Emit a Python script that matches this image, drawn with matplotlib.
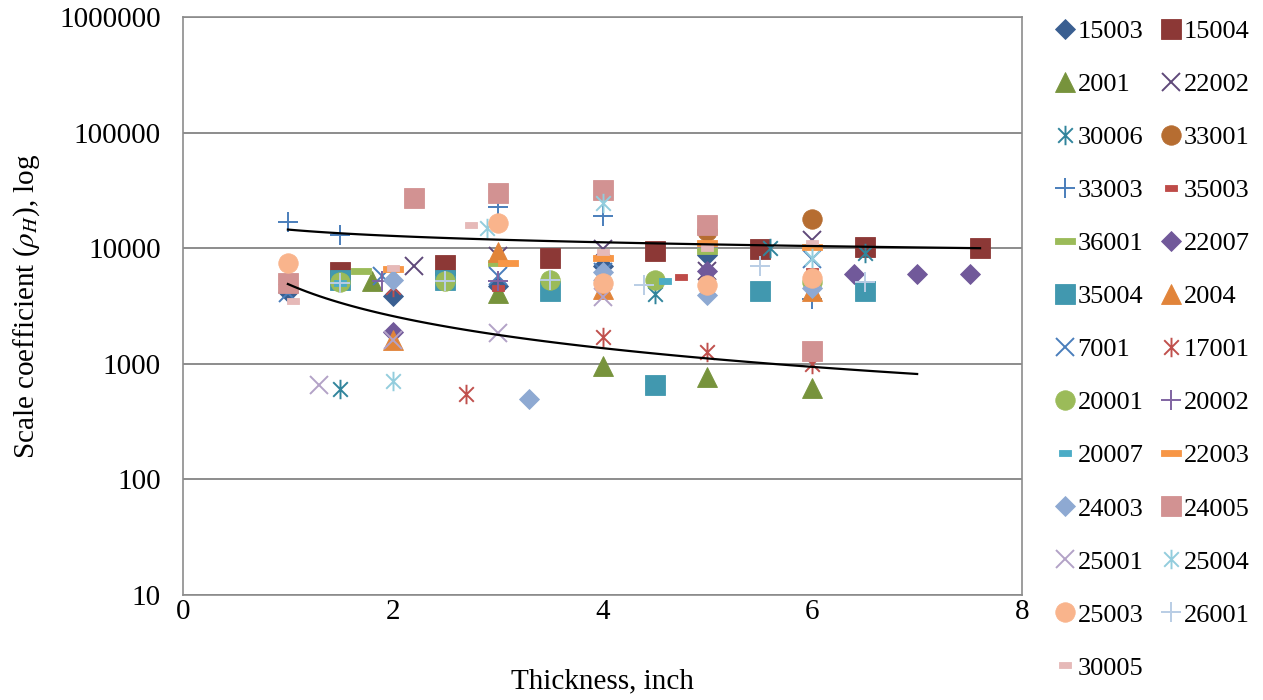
import numpy as np
import matplotlib
matplotlib.use('Agg')
import matplotlib.pyplot as plt
from matplotlib.path import Path

plt.rcParams['font.family'] = ['Liberation Serif', 'DejaVu Serif']
plt.rcParams['mathtext.fontset'] = 'stix'

# scale coefficient per section, thickness (inch) vs rho_H
x_15003 = [1, 2, 3, 4, 5]
y_15003 = [4200, 3850, 4700, 7000, 8700]
x_15004 = [1.5, 2.5, 3.5, 4.5, 5.5, 6.5, 7.6]
y_15004 = [6200, 7100, 8200, 9500, 9800, 10300, 10000]
x_2001 = [1.8, 3, 4, 5, 6]
y_2001 = [5200, 4100, 950, 770, 620]
x_22002 = [2.2, 3, 4, 5, 6]
y_22002 = [7000, 8600, 9800, 6300, 11800]
x_30006 = [1.5, 4.5, 5.6, 6.5]
y_30006 = [610, 4000, 10000, 9000]
x_33001 = [5, 6]
y_33001 = [14000, 18000]
x_33003 = [1, 1.5, 3, 4, 6]
y_33003 = [17000, 13000, 22500, 19000, 3600]
x_35003 = [3, 4.75, 6]
y_35003 = [4500, 5600, 6300]
x_36001 = [1.7, 3, 5]
y_36001 = [6300, 7500, 9500]
x_22007 = [2, 5, 6.4, 7, 7.5]
y_22007 = [1900, 6400, 6000, 6000, 6000]
x_35004 = [1.5, 2.5, 3.5, 4.5, 5.5, 6.5]
y_35004 = [5300, 5300, 4300, 660, 4300, 4300]
x_2004 = [2, 3, 4, 6]
y_2004 = [1600, 9300, 4400, 4300]
x_7001 = [1, 1.9, 3, 4, 6]
y_7001 = [4100, 5700, 5800, 6200, 8000]
x_17001 = [2, 2.7, 4, 5, 6]
y_17001 = [4600, 550, 1700, 1270, 1000]
x_20001 = [1.5, 2.5, 3.5, 4.5, 6]
y_20001 = [5100, 5200, 5300, 5300, 5100]
x_20002 = [1.9, 3]
y_20002 = [5200, 5200]
x_20007 = [1.5, 4.6]
y_20007 = [5000, 5200]
x_22003 = [2, 3.1, 4, 5, 6]
y_22003 = [6600, 7500, 8300, 11000, 10200]
x_24003 = [2, 3.3, 4, 5, 6]
y_24003 = [5300, 500, 6200, 3950, 4500]
x_24005 = [1, 2.2, 3, 4, 5, 6]
y_24005 = [5000, 27000, 30000, 32000, 16000, 1300]
x_25001 = [1.3, 2, 3, 4]
y_25001 = [650, 1600, 1850, 3800]
x_25004 = [2, 2.9, 4, 6]
y_25004 = [710, 15000, 24500, 8200]
x_25003 = [1, 3, 4, 5, 6]
y_25003 = [7500, 16500, 5000, 4800, 5500]
x_26001 = [1.5, 2.5, 3.5, 4.4, 5.5, 6.5]
y_26001 = [5000, 5200, 5300, 4800, 7000, 5100]
x_30005 = [1.05, 2, 2.75, 4, 5, 6]
y_30005 = [3500, 6800, 16000, 9300, 10000, 11000]

# power trendlines a * x**b
trend_upper = (14500, -0.183, 1.0, 7.6)
trend_lower = (4900, -0.921, 1.0, 7.0)

star = Path([(0, -1), (0, 1), (-0.75, -0.75), (0.75, 0.75), (-0.75, 0.75), (0.75, -0.75)],
            [Path.MOVETO, Path.LINETO, Path.MOVETO, Path.LINETO, Path.MOVETO, Path.LINETO])
bar = Path([(-1, -0.33), (1, -0.33), (1, 0.33), (-1, 0.33), (-1, -0.33)],
           [Path.MOVETO, Path.LINETO, Path.LINETO, Path.LINETO, Path.CLOSEPOLY])
tick = Path([(-1, -0.5), (1, -0.5), (1, 0.5), (-1, 0.5), (-1, -0.5)],
            [Path.MOVETO, Path.LINETO, Path.LINETO, Path.LINETO, Path.CLOSEPOLY])

series = [
    ('15003', x_15003, y_15003, 'D', 10, '#3A5F91', True),
    ('15004', x_15004, y_15004, 's', 14, '#8C3836', True),
    ('2001', x_2001, y_2001, '^', 14, '#77933C', True),
    ('22002', x_22002, y_22002, 'x', 13, '#5F497A', False),
    ('30006', x_30006, y_30006, star, 14, '#31859C', False),
    ('33001', x_33001, y_33001, 'o', 14, '#B66D31', True),
    ('33003', x_33003, y_33003, '+', 15, '#4A7EBB', False),
    ('35003', x_35003, y_35003, tick, 8, '#BE4B48', True),
    ('36001', x_36001, y_36001, bar, 15, '#9BBB59', True),
    ('22007', x_22007, y_22007, 'D', 10, '#71599A', True),
    ('35004', x_35004, y_35004, 's', 14, '#4198AF', True),
    ('2004', x_2004, y_2004, '^', 14, '#E1843A', True),
    ('7001', x_7001, y_7001, 'x', 13, '#4A7EBB', False),
    ('17001', x_17001, y_17001, star, 14, '#C0504D', False),
    ('20001', x_20001, y_20001, 'o', 14, '#9BBB59', True),
    ('20002', x_20002, y_20002, '+', 15, '#8064A2', False),
    ('20007', x_20007, y_20007, tick, 8, '#4BACC6', True),
    ('22003', x_22003, y_22003, bar, 15, '#F79646', True),
    ('24003', x_24003, y_24003, 'D', 10, '#8EA9D2', True),
    ('24005', x_24005, y_24005, 's', 14, '#D29292', True),
    ('25001', x_25001, y_25001, 'x', 13, '#B3A2C7', False),
    ('25004', x_25004, y_25004, star, 14, '#93CDDD', False),
    ('25003', x_25003, y_25003, 'o', 14, '#F9B48C', True),
    ('26001', x_26001, y_26001, '+', 15, '#B9CDE5', False),
    ('30005', x_30005, y_30005, tick, 8, '#E6B9B8', True),
]

fig = plt.figure(figsize=(12.63, 7.0), dpi=100)
ax = fig.add_axes([0.1449, 0.15, 0.6643, 0.8257])

handles = []
for name, xs, ys, mk, ms, col, filled in series:
    if filled:
        h, = ax.plot(xs, ys, ls='none', marker=mk, ms=ms, mfc=col, mec=col, mew=0.6, label=name)
    else:
        h, = ax.plot(xs, ys, ls='none', marker=mk, ms=ms, mfc='none', mec=col, mew=1.4, label=name)
    handles.append(h)

for a, b, x0, x1 in (trend_upper, trend_lower):
    xt = np.linspace(x0, x1, 100)
    ax.plot(xt, a * xt ** b, color='black', lw=1.6)

ax.set_yscale('log')
ax.set_ylim(10, 1000000)
ax.set_xlim(0, 8)
ax.set_xticks([0, 2, 4, 6, 8])
ax.set_yticks([10, 100, 1000, 10000, 100000, 1000000])
ax.set_yticklabels(['10', '100', '1000', '10000', '100000', '1000000'])
ax.minorticks_off()
ax.tick_params(length=0, labelsize=21)
ax.tick_params(axis='y', pad=16)
ax.tick_params(axis='x', pad=3)
ax.grid(axis='y', color='#8C8C8C', lw=1.4)
ax.set_axisbelow(True)
for s in ax.spines.values():
    s.set_color('#8C8C8C')
    s.set_linewidth(1.2)

ax.set_xlabel('Thickness, inch', fontsize=21, labelpad=31)
ax.set_ylabel(r'Scale coefficient ($\rho_H$), log', fontsize=21, labelpad=12)

# row-major order in a two-column legend
order = handles[0::2] + handles[1::2]
fig.legend(order, [h.get_label() for h in order], ncol=2, loc='upper left',
           bbox_to_anchor=(0.8213, 1.0), frameon=False, fontsize=19,
           handlelength=0.6, handletextpad=0.18, columnspacing=0.75,
           labelspacing=1.12, borderpad=0.25, numpoints=1)

fig.savefig('out.png', dpi=100)
